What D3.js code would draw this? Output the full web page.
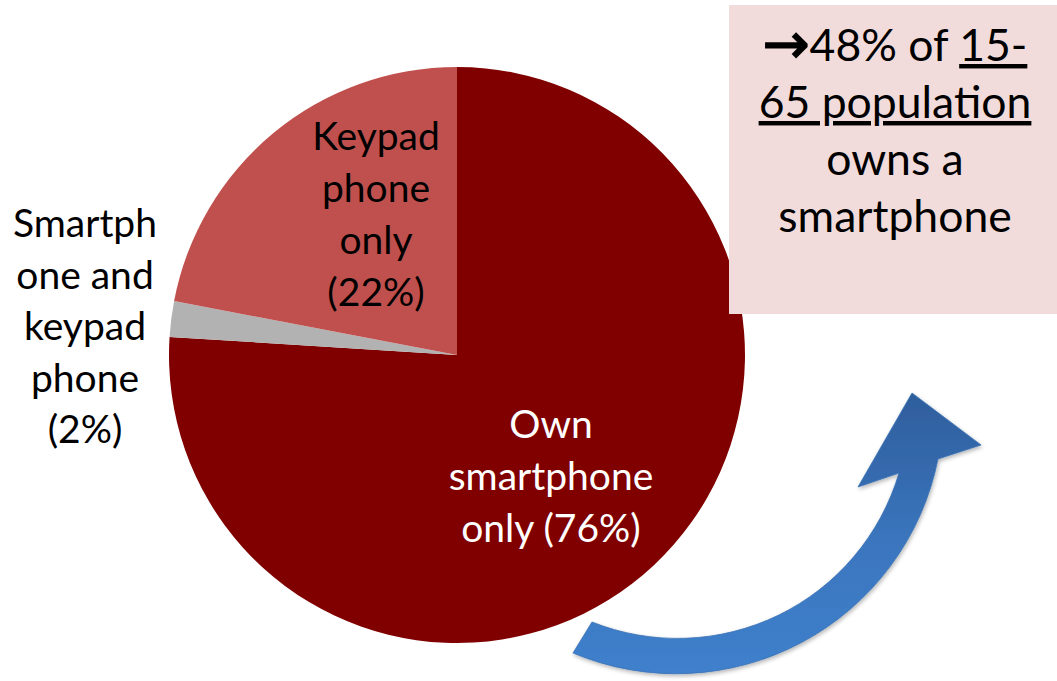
<!DOCTYPE html>
<html>
<head>
<meta charset="utf-8">
<script src="https://cdn.jsdelivr.net/npm/d3@7"></script>
<style>
  html, body { margin: 0; padding: 0; background: #fff; }
  svg { display: block; font-family: Lato, "Open Sans", sans-serif; }
</style>
</head>
<body>
<svg id="chart"></svg>
<script>
// data
var categories = ["Own smartphone only", "Smartphone and keypad phone", "Keypad phone only"];
var shares = [76, 2, 22];
var labelLines = [
  ["Own", "smartphone", "only (76%)"],
  ["Smartph", "one and", "keypad", "phone", "(2%)"],
  ["Keypad", "phone", "only", "(22%)"]
];
var calloutLines = [
  [{t: "\u2192", u: false, sym: true}, {t: "48% of ", u: false}, {t: "15-", u: true}],
  [{t: "65 population", u: true}],
  [{t: "owns a", u: false}],
  [{t: "smartphone", u: false}]
];

document.addEventListener("DOMContentLoaded", function() {
  var width = 1057, height = 681;
  var svg = d3.select("#chart").attr("width", width).attr("height", height);

  var cx = 457, cy = 355, radius = 288;
  var colors = d3.scaleOrdinal().domain(categories).range(["#800000", "#B2B2B2", "#C0504D"]);
  var labelColors = { "Own smartphone only": "#ffffff" };

  // label anchors, relative to pie centre (first baseline)
  var labelPos = {
    "Own smartphone only": [94, 83],
    "Smartphone and keypad phone": [-372, -118],
    "Keypad phone only": [-81, -205]
  };

  var pie = d3.pie().sort(null).value(function(d) { return d; });
  var arc = d3.arc().innerRadius(0).outerRadius(radius);

  var arcs = pie(shares);

  var g = svg.append("g").attr("transform", "translate(" + cx + "," + cy + ")");
  g.selectAll("path.slice").data(arcs).enter().append("path")
    .attr("class", "slice")
    .attr("d", arc)
    .attr("fill", function(d, i) { return colors(categories[i]); });

  // slice labels
  var lineH = 52;
  arcs.forEach(function(a, i) {
    var p = labelPos[categories[i]];
    var t = g.append("text")
      .attr("text-anchor", "middle")
      .attr("font-size", 39)
      .attr("fill", labelColors[categories[i]] || "#000");
    labelLines[i].forEach(function(line, j) {
      t.append("tspan").attr("x", p[0]).attr("y", p[1] + j * (i == 1 ? 51.5 : lineH)).text(line);
    });
  });

  // blue curved arrow
  var defs = svg.append("defs");
  var grad = defs.append("linearGradient").attr("id", "blueGrad")
    .attr("x1", 0).attr("y1", 0).attr("x2", 0).attr("y2", 1);
  grad.append("stop").attr("offset", "0%").attr("stop-color", "#2E5E9C");
  grad.append("stop").attr("offset", "55%").attr("stop-color", "#3B76BF");
  grad.append("stop").attr("offset", "100%").attr("stop-color", "#3F80CC");
  var shadow = defs.append("filter").attr("id", "shadow").attr("x", "-10%").attr("y", "-10%").attr("width", "130%").attr("height", "130%");
  shadow.append("feGaussianBlur").attr("in", "SourceAlpha").attr("stdDeviation", 2);
  shadow.append("feOffset").attr("dx", 1).attr("dy", 2).attr("result", "ob");
  shadow.append("feComponentTransfer").append("feFuncA").attr("type", "linear").attr("slope", 0.3);
  var merge = shadow.append("feMerge");
  merge.append("feMergeNode");
  merge.append("feMergeNode").attr("in", "SourceGraphic");

  // inner edge, head, outer edge
  var arrowD = "M592,622 A231,231 0 0 0 899,473 L858,487 L912,393 L981,445 L938,459 A267,267 0 0 1 573,653 Z";
  svg.append("path")
    .attr("d", arrowD)
    .attr("fill", "url(#blueGrad)")
    .attr("stroke", "#3A72B6")
    .attr("stroke-width", 0.8)
    .attr("filter", "url(#shadow)");

  // callout box
  var box = { x: 729, y: 5, w: 328, h: 309 };
  svg.append("rect")
    .attr("x", box.x).attr("y", box.y)
    .attr("width", box.w).attr("height", box.h)
    .attr("fill", "#F2DCDB");

  var ct = svg.append("text")
    .attr("text-anchor", "middle")
    .attr("font-size", 44.5)
    .attr("fill", "#000");
  calloutLines.forEach(function(parts, j) {
    var line = ct.append("tspan").attr("x", box.x + box.w / 2 + 2).attr("y", 61 + j * 57);
    parts.forEach(function(p) {
      var s = line.append("tspan").text(p.t);
      if (p.u) s.attr("text-decoration", "underline");
      if (p.sym) s.attr("font-family", "'DejaVu Sans'").attr("font-size", 56).attr("dy", 2)
        .attr("stroke", "#000").attr("stroke-width", 1.6);
    });
    if (j == 0) line.selectAll("tspan").filter(function(d, k) { return k == 1; }).attr("dy", -2);
  });
});
</script>
</body>
</html>
